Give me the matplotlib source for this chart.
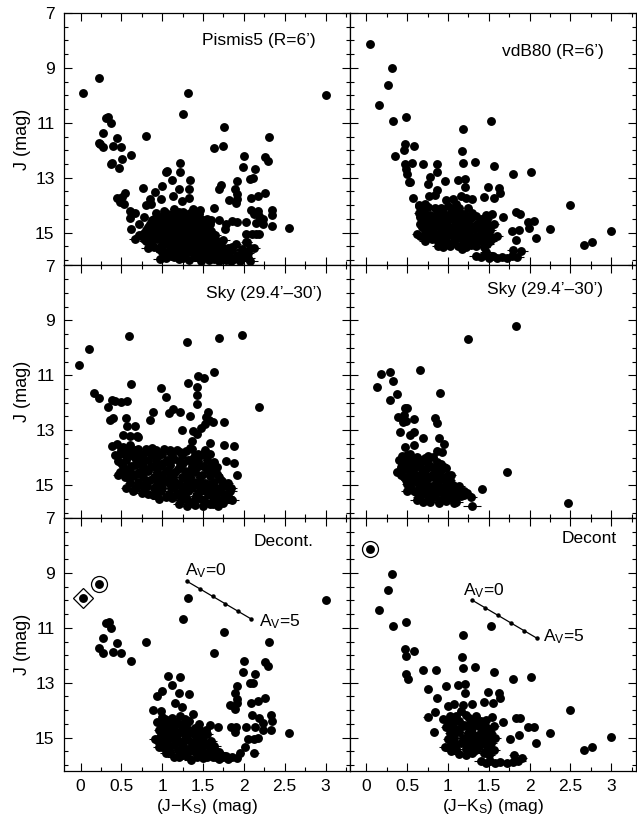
import numpy as np
import matplotlib.pyplot as plt
from matplotlib.ticker import FixedLocator, MultipleLocator, FuncFormatter

plt.rcParams['font.family'] = ['Liberation Sans', 'DejaVu Sans']
plt.rcParams['mathtext.fontset'] = 'custom'
plt.rcParams['mathtext.rm'] = 'Liberation Sans'
plt.rcParams['mathtext.it'] = 'Liberation Sans'

# (J-Ks, J, err(J-Ks))
pismis5_field = [
    (0.03, 9.93, 0.04), (0.23, 9.37, 0.01), (1.32, 9.90, 0.01), (1.25, 10.67, 0.01), (3.00, 10.00, 0.01),
    (0.31, 10.83, 0.01), (0.34, 10.78, 0.01), (0.37, 10.99, 0.01), (0.28, 11.37, 0.01), (0.22, 11.73, 0.01),
    (0.24, 11.76, 0.01), (0.27, 11.90, 0.01), (0.40, 11.85, 0.01), (0.44, 11.57, 0.01), (0.49, 11.90, 0.01),
    (0.51, 12.33, 0.01), (0.62, 12.18, 0.01), (0.38, 12.45, 0.01), (0.37, 12.50, 0.01), (0.47, 12.63, 0.01),
    (0.80, 11.49, 0.01), (1.76, 11.16, 0.01), (1.64, 11.93, 0.01), (1.75, 11.84, 0.01), (2.31, 11.51, 0.01),
    (2.00, 12.20, 0.01), (2.26, 12.23, 0.01), (2.29, 12.40, 0.01), (1.99, 12.60, 0.01), (2.14, 12.70, 0.01),
    (2.07, 13.05, 0.01), (2.11, 13.00, 0.01), (1.91, 13.13, 0.02), (1.22, 12.46, 0.01), (1.04, 12.81, 0.01),
    (1.06, 12.77, 0.01), (1.22, 12.81, 0.01), (1.12, 13.10, 0.01), (1.34, 13.07, 0.02), (0.77, 13.36, 0.02),
    (0.91, 13.52, 0.02), (1.00, 13.29, 0.02), (1.20, 13.40, 0.04), (1.33, 13.42, 0.04), (1.72, 13.25, 0.02),
    (1.70, 13.40, 0.02), (1.89, 13.40, 0.02), (1.91, 13.58, 0.02), (1.91, 13.78, 0.02), (1.90, 13.92, 0.02),
    (1.82, 13.82, 0.03), (2.09, 13.75, 0.02), (2.17, 13.65, 0.02), (2.26, 13.56, 0.02), (0.54, 13.56, 0.04),
    (0.51, 13.70, 0.04), (0.44, 13.73, 0.04), (0.48, 13.90, 0.04), (0.53, 13.95, 0.04), (0.61, 14.20, 0.04),
    (0.66, 14.27, 0.04), (0.60, 14.46, 0.05), (0.85, 13.79, 0.03), (0.80, 13.98, 0.03), (0.86, 13.97, 0.03),
    (0.98, 13.79, 0.03), (1.13, 13.67, 0.03), (1.24, 13.85, 0.03), (1.33, 13.74, 0.04), (1.38, 14.13, 0.03),
    (1.46, 14.19, 0.03), (1.64, 14.10, 0.03), (2.09, 14.16, 0.03), (2.12, 14.31, 0.03), (2.17, 14.21, 0.03),
    (2.19, 14.41, 0.03), (2.23, 14.50, 0.03), (2.34, 14.19, 0.03), (2.35, 14.37, 0.03), (1.60, 14.53, 0.04),
    (1.70, 14.53, 0.04), (1.86, 14.58, 0.04), (1.91, 14.62, 0.04), (2.03, 14.62, 0.04), (2.15, 14.65, 0.04),
    (2.23, 14.67, 0.04), (2.34, 14.76, 0.04), (1.78, 14.70, 0.04), (1.77, 14.86, 0.04), (2.02, 15.07, 0.04),
    (2.10, 15.05, 0.04), (2.15, 15.07, 0.04), (2.19, 15.07, 0.04), (2.55, 14.85, 0.05), (2.04, 15.35, 0.06),
    (2.07, 15.55, 0.07),
    (0.62, 14.87, 0.05), (0.66, 15.24, 0.07), (0.72, 14.68, 0.04), (0.76, 15.05, 0.06), (0.78, 14.45, 0.04),
    (0.80, 15.30, 0.08), (0.83, 14.80, 0.05), (0.85, 15.12, 0.06), (0.87, 14.55, 0.04), (0.88, 15.45, 0.08),
    (0.90, 14.95, 0.05), (0.92, 14.30, 0.04), (0.93, 15.25, 0.07), (0.95, 14.70, 0.05), (0.96, 15.60, 0.08),
    (0.98, 14.45, 0.04), (0.99, 15.05, 0.06), (1.00, 14.85, 0.05), (1.01, 15.40, 0.07), (1.02, 14.20, 0.04),
    (1.03, 15.70, 0.08), (1.05, 14.60, 0.05), (1.06, 15.15, 0.06), (1.07, 14.35, 0.04), (1.08, 14.95, 0.05),
    (1.09, 15.50, 0.07), (1.10, 14.75, 0.05), (1.11, 15.85, 0.08), (1.12, 14.50, 0.05), (1.13, 15.25, 0.06),
    (1.14, 14.15, 0.04), (1.15, 15.00, 0.06), (1.16, 15.65, 0.08), (1.17, 14.65, 0.05), (1.18, 15.40, 0.07),
    (1.19, 14.35, 0.04), (1.20, 14.90, 0.05), (1.21, 15.95, 0.09), (1.22, 15.15, 0.06), (1.23, 14.55, 0.05),
    (1.24, 15.55, 0.07), (1.25, 14.25, 0.04), (1.26, 14.80, 0.05), (1.27, 15.30, 0.07), (1.28, 15.80, 0.08),
    (1.29, 14.45, 0.04), (1.30, 15.05, 0.06), (1.31, 14.70, 0.05), (1.32, 15.45, 0.07), (1.33, 16.00, 0.09),
    (1.34, 14.30, 0.04), (1.35, 14.95, 0.06), (1.36, 15.65, 0.08), (1.37, 15.20, 0.06), (1.38, 14.60, 0.05),
    (1.39, 15.90, 0.09), (1.40, 14.85, 0.05), (1.41, 15.35, 0.07), (1.42, 14.45, 0.05), (1.43, 15.75, 0.08),
    (1.44, 15.10, 0.06), (1.45, 14.70, 0.05), (1.46, 15.55, 0.07), (1.47, 16.05, 0.09), (1.48, 14.95, 0.06),
    (1.49, 15.30, 0.07), (1.50, 14.55, 0.05), (1.51, 15.85, 0.08), (1.52, 15.15, 0.06), (1.53, 14.80, 0.05),
    (1.54, 15.60, 0.08), (1.55, 15.40, 0.07), (1.57, 16.00, 0.09), (1.58, 15.00, 0.06), (1.59, 15.75, 0.08),
    (1.60, 15.25, 0.07), (1.62, 15.50, 0.07), (1.63, 15.95, 0.09), (1.65, 15.35, 0.07), (1.67, 15.80, 0.08),
    (1.68, 15.60, 0.08), (1.70, 16.05, 0.09), (1.72, 15.45, 0.07), (1.74, 15.90, 0.09), (1.76, 15.70, 0.08),
    (1.78, 16.00, 0.09), (1.80, 15.55, 0.08), (1.82, 15.85, 0.09), (1.84, 16.05, 0.09), (1.86, 15.65, 0.08),
    (1.88, 15.95, 0.09), (1.90, 15.40, 0.07), (1.92, 15.80, 0.09), (1.95, 16.05, 0.09), (1.98, 15.60, 0.08),
    (2.00, 15.90, 0.09), (2.03, 15.35, 0.07), (2.05, 15.75, 0.08), (2.08, 16.05, 0.09), (2.12, 15.55, 0.08),
    (0.82, 15.55, 0.08), (0.78, 15.25, 0.08), (0.97, 15.95, 0.08),
    (1.05, 14.28, 0.04), (1.12, 14.32, 0.04), (1.20, 14.26, 0.04), (1.28, 14.34, 0.04), (1.36, 14.28, 0.04),
    (1.45, 14.33, 0.05), (0.90, 14.52, 0.05), (0.97, 14.48, 0.05), (1.04, 14.54, 0.05), (1.16, 14.50, 0.05),
    (1.26, 14.53, 0.05), (1.33, 14.47, 0.05), (1.46, 14.52, 0.05), (1.55, 14.49, 0.05), (0.85, 14.70, 0.05),
    (0.93, 14.74, 0.05), (1.01, 14.68, 0.05), (1.09, 14.72, 0.05), (1.22, 14.69, 0.05), (1.29, 14.74, 0.05),
    (1.38, 14.70, 0.05), (1.50, 14.73, 0.06), (1.58, 14.68, 0.06), (0.80, 14.92, 0.06), (0.88, 14.88, 0.06),
    (0.96, 14.93, 0.06), (1.04, 14.89, 0.06), (1.12, 14.91, 0.06), (1.18, 14.87, 0.06), (1.25, 14.93, 0.06),
    (1.31, 14.89, 0.06), (1.43, 14.92, 0.06), (1.52, 14.88, 0.06), (1.60, 14.93, 0.06), (0.72, 15.10, 0.07),
    (0.82, 15.13, 0.07), (0.90, 15.08, 0.07), (0.97, 15.12, 0.07), (1.03, 15.09, 0.07), (1.10, 15.11, 0.07),
    (1.17, 15.07, 0.07), (1.26, 15.12, 0.07), (1.34, 15.09, 0.07), (1.40, 15.13, 0.07), (1.48, 15.08, 0.07),
    (1.56, 15.11, 0.07), (1.65, 15.10, 0.07), (0.85, 15.31, 0.07), (0.98, 15.28, 0.07), (1.06, 15.32, 0.07),
    (1.15, 15.29, 0.07), (1.22, 15.33, 0.07), (1.30, 15.28, 0.07), (1.37, 15.31, 0.07), (1.45, 15.27, 0.07),
    (1.52, 15.32, 0.08), (1.58, 15.29, 0.08), (1.67, 15.31, 0.08), (1.75, 15.28, 0.08), (0.90, 15.52, 0.08),
    (1.00, 15.48, 0.08), (1.13, 15.52, 0.08), (1.20, 15.49, 0.08), (1.28, 15.51, 0.08), (1.35, 15.47, 0.08),
    (1.40, 15.52, 0.08), (1.50, 15.49, 0.08), (1.60, 15.51, 0.08), (1.70, 15.48, 0.08), (1.85, 15.52, 0.08),
    (1.00, 15.72, 0.08), (1.08, 15.68, 0.08), (1.22, 15.71, 0.08), (1.30, 15.67, 0.08), (1.38, 15.72, 0.08),
    (1.48, 15.69, 0.08), (1.56, 15.72, 0.08), (1.64, 15.68, 0.08), (1.72, 15.71, 0.08), (1.82, 15.69, 0.09),
    (1.98, 15.72, 0.09), (1.05, 15.91, 0.09), (1.15, 15.88, 0.09), (1.26, 15.92, 0.09), (1.45, 15.89, 0.09),
    (1.55, 15.92, 0.09), (1.68, 15.88, 0.09), (1.80, 15.91, 0.09), (1.93, 15.88, 0.09), (2.05, 15.92, 0.09),
]

vdb80_field = [
    (0.05, 8.13, 0.01), (0.31, 9.02, 0.01), (0.26, 9.63, 0.01), (0.15, 10.37, 0.01), (0.33, 10.93, 0.01),
    (0.49, 10.78, 0.01), (1.53, 10.95, 0.01), (1.18, 11.23, 0.01), (0.47, 11.77, 0.01), (0.46, 12.00, 0.01),
    (0.58, 11.83, 0.01), (0.35, 12.21, 0.01), (1.17, 12.04, 0.01), (0.47, 12.50, 0.01), (0.49, 12.67, 0.01),
    (0.50, 12.85, 0.01), (0.56, 12.46, 0.01), (0.70, 12.52, 0.01), (0.86, 12.49, 0.04), (0.86, 12.80, 0.01),
    (1.19, 12.46, 0.01), (1.33, 12.43, 0.01), (1.57, 12.58, 0.01), (1.80, 12.85, 0.01), (2.02, 12.79, 0.01),
    (0.78, 12.97, 0.01), (0.52, 13.16, 0.01), (0.54, 13.14, 0.01), (0.75, 13.22, 0.01), (0.96, 13.13, 0.04),
    (1.12, 13.10, 0.01), (1.21, 13.06, 0.01), (1.21, 13.34, 0.01), (1.49, 13.34, 0.01), (1.63, 13.37, 0.01),
    (1.64, 13.55, 0.01), (0.86, 13.46, 0.03), (0.84, 13.62, 0.01), (0.77, 13.65, 0.01), (0.57, 13.74, 0.01),
    (0.98, 13.82, 0.02), (1.06, 13.76, 0.02), (1.16, 13.65, 0.02), (1.22, 13.75, 0.02), (1.29, 13.78, 0.02),
    (1.44, 13.70, 0.02), (1.56, 13.73, 0.03), (0.64, 13.98, 0.03), (0.72, 13.97, 0.03), (2.50, 14.00, 0.01),
    (1.83, 14.26, 0.03), (1.88, 14.31, 0.03), (1.68, 14.43, 0.02), (1.46, 14.37, 0.04), (1.54, 14.31, 0.03),
    (1.98, 14.62, 0.03), (2.05, 14.58, 0.03), (1.99, 14.82, 0.03), (1.87, 14.90, 0.03), (1.78, 14.95, 0.03),
    (2.25, 14.86, 0.05), (3.00, 14.96, 0.05), (1.83, 15.28, 0.03), (2.08, 15.20, 0.05), (2.67, 15.47, 0.03),
    (2.76, 15.35, 0.03), (0.94, 15.53, 0.06), (1.17, 15.60, 0.06),
    (0.62, 15.04, 0.06), (0.64, 14.05, 0.04), (0.66, 14.45, 0.05), (0.68, 14.80, 0.05), (0.70, 14.20, 0.04),
    (0.72, 15.10, 0.06), (0.74, 14.60, 0.05), (0.76, 14.95, 0.06), (0.78, 14.35, 0.04), (0.80, 15.25, 0.07),
    (0.82, 14.70, 0.05), (0.84, 14.10, 0.04), (0.86, 15.05, 0.06), (0.88, 14.50, 0.05), (0.90, 15.35, 0.07),
    (0.92, 14.85, 0.06), (0.94, 14.25, 0.04), (0.96, 14.65, 0.05), (0.98, 15.15, 0.06), (1.00, 14.40, 0.05),
    (1.02, 14.95, 0.06), (1.04, 15.40, 0.07), (1.05, 14.15, 0.04), (1.07, 14.75, 0.05), (1.09, 15.20, 0.07),
    (1.10, 14.55, 0.05), (1.12, 15.50, 0.08), (1.14, 14.90, 0.06), (1.15, 14.30, 0.05), (1.18, 15.05, 0.06),
    (1.20, 14.65, 0.05), (1.22, 15.30, 0.07), (1.24, 14.45, 0.05), (1.26, 14.95, 0.06), (1.28, 15.45, 0.07),
    (1.30, 14.75, 0.06), (1.32, 15.15, 0.07), (1.34, 14.40, 0.05), (1.36, 15.35, 0.07), (1.38, 14.85, 0.06),
    (1.40, 15.05, 0.07), (1.42, 14.60, 0.06), (1.44, 15.25, 0.07), (1.46, 14.90, 0.06), (1.48, 15.40, 0.08),
    (1.50, 15.10, 0.07), (1.52, 14.75, 0.06), (1.55, 15.20, 0.07), (1.00, 14.03, 0.04), (1.10, 13.95, 0.04),
    (1.34, 15.85, 0.08), (1.40, 15.90, 0.08), (1.45, 15.80, 0.08), (1.50, 15.92, 0.09), (1.55, 15.85, 0.08),
    (1.60, 15.92, 0.09), (1.66, 15.88, 0.08), (1.72, 15.92, 0.09), (1.78, 15.85, 0.08), (1.84, 15.90, 0.09),
    (1.80, 15.62, 0.08), (1.90, 15.67, 0.08), (1.47, 15.72, 0.08),
    (0.68, 14.12, 0.04), (0.76, 14.08, 0.04), (0.92, 14.11, 0.04), (1.14, 14.09, 0.04), (1.25, 14.12, 0.04),
    (0.64, 14.30, 0.05), (0.72, 14.33, 0.05), (0.86, 14.29, 0.05), (1.02, 14.32, 0.05), (1.10, 14.28, 0.05),
    (1.20, 14.31, 0.05), (1.30, 14.29, 0.05), (0.70, 14.52, 0.05), (0.80, 14.48, 0.05), (0.94, 14.51, 0.05),
    (1.05, 14.49, 0.05), (1.16, 14.52, 0.05), (1.28, 14.48, 0.05), (1.40, 14.51, 0.05), (1.48, 14.49, 0.06),
    (0.66, 14.70, 0.05), (0.78, 14.72, 0.05), (0.88, 14.69, 0.05), (0.99, 14.71, 0.06), (1.12, 14.68, 0.06),
    (1.25, 14.72, 0.06), (1.35, 14.69, 0.06), (1.47, 14.71, 0.06), (1.56, 14.68, 0.06), (0.72, 14.91, 0.06),
    (0.82, 14.88, 0.06), (0.96, 14.92, 0.06), (1.08, 14.89, 0.06), (1.20, 14.91, 0.06), (1.32, 14.88, 0.06),
    (1.43, 14.92, 0.06), (1.52, 14.89, 0.07), (0.66, 15.12, 0.07), (0.78, 15.09, 0.07), (0.90, 15.11, 0.07),
    (1.04, 15.08, 0.07), (1.14, 15.12, 0.07), (1.26, 15.09, 0.07), (1.36, 15.11, 0.07), (1.46, 15.08, 0.07),
    (1.60, 15.12, 0.07), (0.72, 15.31, 0.07), (0.86, 15.28, 0.07), (0.98, 15.32, 0.07), (1.08, 15.29, 0.07),
    (1.18, 15.31, 0.07), (1.30, 15.28, 0.08), (1.42, 15.32, 0.08), (1.52, 15.29, 0.08), (0.88, 15.50, 0.08),
    (1.02, 15.48, 0.08), (1.22, 15.51, 0.08), (1.34, 15.49, 0.08), (1.44, 15.52, 0.08),
]

pismis5_sky = [
    (-0.02, 10.64, 0.01), (0.10, 10.03, 0.01), (0.59, 9.57, 0.01), (1.30, 9.80, 0.01), (1.70, 9.65, 0.01),
    (1.98, 9.52, 0.01), (0.16, 11.64, 0.01), (0.23, 11.83, 0.01), (0.34, 12.17, 0.01), (0.36, 12.63, 0.01),
    (0.40, 12.57, 0.01), (0.38, 11.90, 0.01), (0.42, 11.95, 0.01), (0.50, 11.99, 0.01), (0.57, 11.94, 0.01),
    (0.62, 11.33, 0.01), (0.56, 12.56, 0.01), (0.57, 12.86, 0.01), (0.67, 12.84, 0.01), (0.52, 13.18, 0.01),
    (0.69, 13.20, 0.02), (0.70, 13.25, 0.02), (0.85, 12.62, 0.01), (0.89, 12.32, 0.01), (0.98, 11.48, 0.01),
    (1.05, 11.80, 0.01), (1.08, 12.39, 0.01), (1.13, 12.23, 0.01), (1.22, 12.32, 0.01), (1.31, 11.27, 0.01),
    (1.34, 12.47, 0.01), (1.24, 12.98, 0.01), (1.36, 13.39, 0.01), (1.38, 13.02, 0.01), (1.42, 13.14, 0.01),
    (1.44, 11.01, 0.01), (1.51, 11.10, 0.01), (1.63, 10.89, 0.01), (1.42, 11.43, 0.01), (1.42, 11.71, 0.01),
    (1.43, 12.05, 0.01), (1.47, 12.91, 0.01), (1.52, 12.78, 0.01), (1.54, 12.51, 0.01), (1.56, 12.32, 0.01),
    (1.57, 12.62, 0.01), (1.62, 12.69, 0.01), (1.59, 13.47, 0.01), (1.76, 12.69, 0.01), (1.76, 13.53, 0.01),
    (1.88, 13.58, 0.01), (1.78, 14.14, 0.01), (1.88, 14.20, 0.01), (1.91, 14.63, 0.01), (2.19, 12.15, 0.01),
    (1.67, 14.35, 0.02), (1.54, 13.88, 0.02), (1.44, 13.85, 0.02), (1.34, 13.65, 0.02), (1.22, 13.78, 0.02),
    (1.09, 13.72, 0.02), (0.46, 14.62, 0.06), (0.56, 15.11, 0.07),
    (0.38, 13.57, 0.03), (0.44, 13.51, 0.03), (0.48, 13.85, 0.04), (0.50, 14.20, 0.05), (0.52, 13.60, 0.04),
    (0.54, 14.45, 0.05), (0.57, 13.95, 0.04), (0.59, 14.75, 0.06), (0.61, 13.55, 0.04), (0.62, 14.30, 0.05),
    (0.64, 15.20, 0.07), (0.66, 14.00, 0.05), (0.68, 14.60, 0.06), (0.70, 13.70, 0.04), (0.71, 14.95, 0.06),
    (0.73, 14.25, 0.05), (0.75, 15.30, 0.07), (0.77, 13.85, 0.04), (0.79, 14.50, 0.05), (0.81, 15.05, 0.06),
    (0.83, 14.10, 0.05), (0.85, 14.80, 0.06), (0.87, 13.65, 0.04), (0.89, 15.35, 0.07), (0.91, 14.35, 0.05),
    (0.93, 14.95, 0.06), (0.95, 13.95, 0.05), (0.97, 14.65, 0.06), (0.99, 15.20, 0.07), (1.01, 14.20, 0.05),
    (1.03, 14.85, 0.06), (1.05, 15.45, 0.07), (1.07, 14.45, 0.05), (1.09, 13.80, 0.04), (1.11, 15.10, 0.06),
    (1.13, 14.70, 0.06), (1.15, 14.05, 0.05), (1.17, 15.35, 0.07), (1.19, 14.40, 0.05), (1.21, 14.95, 0.06),
    (1.23, 15.55, 0.08), (1.25, 14.20, 0.05), (1.27, 14.75, 0.06), (1.29, 13.75, 0.04), (1.31, 15.20, 0.07),
    (1.33, 14.50, 0.05), (1.35, 15.65, 0.08), (1.37, 14.05, 0.05), (1.39, 14.90, 0.06), (1.41, 15.40, 0.07),
    (1.43, 14.35, 0.05), (1.45, 15.05, 0.06), (1.47, 13.90, 0.05), (1.49, 14.65, 0.06), (1.51, 15.55, 0.08),
    (1.53, 15.20, 0.07), (1.55, 14.45, 0.06), (1.57, 14.95, 0.06), (1.59, 15.70, 0.08), (1.61, 15.35, 0.07),
    (1.63, 14.15, 0.05), (1.65, 15.10, 0.07), (1.67, 14.60, 0.06), (1.69, 15.55, 0.08), (1.71, 15.25, 0.07),
    (1.73, 14.85, 0.06), (1.75, 15.65, 0.08), (1.78, 15.05, 0.07), (1.80, 15.40, 0.08), (1.83, 15.20, 0.08),
    (1.86, 15.55, 0.08), (1.21, 15.70, 0.08), (1.30, 15.75, 0.08), (1.40, 15.72, 0.08), (1.50, 15.78, 0.08),
    (1.62, 15.68, 0.08), (1.68, 15.76, 0.09), (0.60, 13.20, 0.03), (0.84, 13.78, 0.04), (0.72, 15.00, 0.06),
    (0.66, 15.10, 0.07),
    (0.50, 13.72, 0.04), (0.58, 13.68, 0.04), (0.66, 13.73, 0.04), (0.80, 13.69, 0.04), (0.92, 13.72, 0.04),
    (1.02, 13.68, 0.04), (1.18, 13.71, 0.04), (1.36, 13.69, 0.04), (1.52, 13.72, 0.04), (0.42, 13.91, 0.04),
    (0.54, 13.88, 0.04), (0.62, 13.92, 0.04), (0.72, 13.89, 0.04), (0.88, 13.91, 0.04), (1.00, 13.88, 0.04),
    (1.12, 13.92, 0.04), (1.24, 13.89, 0.04), (1.40, 13.91, 0.05), (1.58, 13.88, 0.05), (0.46, 14.12, 0.05),
    (0.56, 14.08, 0.05), (0.70, 14.11, 0.05), (0.78, 14.09, 0.05), (0.92, 14.12, 0.05), (1.06, 14.08, 0.05),
    (1.20, 14.11, 0.05), (1.32, 14.09, 0.05), (1.44, 14.12, 0.05), (1.55, 14.08, 0.05), (0.52, 14.31, 0.05),
    (0.66, 14.28, 0.05), (0.76, 14.32, 0.05), (0.86, 14.29, 0.05), (0.98, 14.31, 0.05), (1.10, 14.28, 0.05),
    (1.22, 14.32, 0.05), (1.36, 14.29, 0.05), (1.50, 14.31, 0.06), (1.60, 14.28, 0.06), (0.48, 14.52, 0.05),
    (0.60, 14.48, 0.05), (0.72, 14.51, 0.05), (0.82, 14.49, 0.05), (0.94, 14.52, 0.06), (1.04, 14.48, 0.06),
    (1.16, 14.51, 0.06), (1.28, 14.49, 0.06), (1.40, 14.52, 0.06), (1.62, 14.48, 0.06), (0.54, 14.71, 0.06),
    (0.64, 14.68, 0.06), (0.76, 14.72, 0.06), (0.90, 14.69, 0.06), (1.00, 14.71, 0.06), (1.10, 14.68, 0.06),
    (1.24, 14.72, 0.06), (1.34, 14.69, 0.06), (1.46, 14.71, 0.06), (1.58, 14.68, 0.06), (1.70, 14.72, 0.06),
    (0.60, 14.92, 0.06), (0.70, 14.88, 0.06), (0.80, 14.91, 0.06), (0.96, 14.89, 0.06), (1.08, 14.92, 0.06),
    (1.16, 14.88, 0.06), (1.30, 14.91, 0.06), (1.44, 14.89, 0.07), (1.52, 14.92, 0.07), (1.64, 14.88, 0.07),
    (1.80, 14.91, 0.07), (0.68, 15.11, 0.07), (0.78, 15.08, 0.07), (0.90, 15.12, 0.07), (1.00, 15.09, 0.07),
    (1.14, 15.11, 0.07), (1.24, 15.08, 0.07), (1.36, 15.12, 0.07), (1.48, 15.09, 0.07), (1.58, 15.11, 0.07),
    (1.72, 15.08, 0.07), (1.84, 15.12, 0.08), (0.82, 15.31, 0.07), (0.94, 15.28, 0.07), (1.08, 15.32, 0.07),
    (1.20, 15.29, 0.07), (1.28, 15.31, 0.07), (1.44, 15.28, 0.08), (1.56, 15.32, 0.08), (1.66, 15.29, 0.08),
    (1.76, 15.31, 0.08), (0.96, 15.52, 0.08), (1.12, 15.48, 0.08), (1.30, 15.51, 0.08), (1.40, 15.49, 0.08),
    (1.48, 15.52, 0.08), (1.62, 15.48, 0.08), (1.78, 15.51, 0.08),
]

vdb80_sky = [
    (1.83, 9.19, 0.01), (1.25, 9.68, 0.04), (0.13, 11.42, 0.01), (0.18, 10.94, 0.01), (0.29, 10.89, 0.01),
    (0.33, 11.21, 0.01), (0.66, 10.81, 0.01), (0.38, 11.70, 0.01), (0.29, 11.89, 0.01), (0.90, 11.63, 0.01),
    (0.47, 12.19, 0.01), (0.50, 12.18, 0.01), (0.39, 12.51, 0.01), (0.46, 12.43, 0.01), (0.45, 12.72, 0.01),
    (0.48, 12.66, 0.01), (0.59, 12.60, 0.01), (0.84, 12.55, 0.01), (0.86, 12.75, 0.01), (0.41, 13.07, 0.01),
    (0.54, 13.18, 0.01), (0.59, 13.08, 0.01), (0.70, 13.29, 0.01), (0.89, 13.29, 0.01), (0.95, 13.52, 0.01),
    (0.93, 13.81, 0.01), (0.87, 13.75, 0.01), (0.47, 13.63, 0.01), (0.59, 13.55, 0.01), (0.50, 13.91, 0.01),
    (0.38, 14.54, 0.05), (1.72, 14.52, 0.05), (1.42, 15.15, 0.05), (1.23, 15.30, 0.06), (1.29, 15.76, 0.11),
    (1.08, 15.66, 0.05), (2.47, 15.65, 0.05), (0.89, 15.66, 0.05), (0.95, 14.34, 0.03),
    (0.40, 14.10, 0.04), (0.42, 14.35, 0.05), (0.44, 13.95, 0.04), (0.46, 14.70, 0.05), (0.48, 14.20, 0.05),
    (0.50, 14.95, 0.06), (0.52, 14.45, 0.05), (0.53, 13.85, 0.04), (0.55, 15.10, 0.06), (0.56, 14.60, 0.05),
    (0.58, 14.05, 0.05), (0.60, 14.85, 0.06), (0.61, 15.25, 0.07), (0.63, 14.30, 0.05), (0.65, 14.70, 0.06),
    (0.66, 15.40, 0.07), (0.68, 14.10, 0.05), (0.70, 14.95, 0.06), (0.71, 14.50, 0.05), (0.73, 15.20, 0.07),
    (0.75, 13.95, 0.05), (0.76, 14.75, 0.06), (0.78, 15.50, 0.07), (0.80, 14.35, 0.05), (0.81, 15.05, 0.06),
    (0.83, 14.60, 0.06), (0.85, 15.30, 0.07), (0.87, 14.15, 0.05), (0.88, 14.90, 0.06), (0.90, 15.55, 0.08),
    (0.92, 14.45, 0.06), (0.94, 15.15, 0.07), (0.96, 14.75, 0.06), (0.98, 15.40, 0.07), (1.00, 14.95, 0.07),
    (1.02, 15.25, 0.07), (1.04, 14.65, 0.06), (1.06, 15.45, 0.08), (1.08, 15.10, 0.07), (1.12, 15.35, 0.08),
    (1.16, 15.40, 0.08), (0.62, 15.55, 0.08), (0.70, 15.60, 0.08), (0.50, 15.20, 0.07),
    (0.50, 14.02, 0.04), (0.62, 13.98, 0.04), (0.72, 14.02, 0.04), (0.82, 13.98, 0.04), (0.44, 14.22, 0.05),
    (0.55, 14.18, 0.05), (0.66, 14.22, 0.05), (0.76, 14.18, 0.05), (0.92, 14.22, 0.05), (0.47, 14.42, 0.05),
    (0.58, 14.38, 0.05), (0.68, 14.42, 0.05), (0.74, 14.38, 0.05), (0.86, 14.42, 0.05), (0.98, 14.38, 0.05),
    (0.42, 14.62, 0.05), (0.53, 14.58, 0.05), (0.62, 14.62, 0.05), (0.72, 14.58, 0.05), (0.80, 14.62, 0.05),
    (0.90, 14.58, 0.06), (1.00, 14.62, 0.06), (0.48, 14.82, 0.06), (0.57, 14.78, 0.06), (0.66, 14.82, 0.06),
    (0.74, 14.78, 0.06), (0.85, 14.82, 0.06), (0.94, 14.78, 0.06), (1.03, 14.82, 0.06), (0.54, 15.02, 0.06),
    (0.64, 14.98, 0.06), (0.76, 15.02, 0.06), (0.86, 14.98, 0.06), (0.96, 15.02, 0.07), (1.06, 14.98, 0.07),
    (1.14, 15.02, 0.07), (0.58, 15.22, 0.07), (0.68, 15.18, 0.07), (0.80, 15.22, 0.07), (0.90, 15.18, 0.07),
    (1.00, 15.22, 0.07), (1.10, 15.18, 0.07), (1.20, 15.22, 0.07), (0.64, 15.42, 0.07), (0.74, 15.38, 0.07),
    (0.84, 15.42, 0.08), (0.95, 15.38, 0.08), (1.04, 15.42, 0.08), (1.20, 15.38, 0.08), (1.28, 15.42, 0.08),
    (0.78, 15.62, 0.08), (0.98, 15.58, 0.08), (1.10, 15.62, 0.08),
]

pismis5_decont = [
    (1.32, 9.91, 0.01), (1.25, 10.67, 0.01), (3.00, 10.00, 0.01), (0.31, 10.83, 0.01), (0.35, 10.80, 0.01),
    (0.37, 11.01, 0.01), (0.28, 11.36, 0.01), (0.22, 11.74, 0.01), (0.27, 11.93, 0.01), (0.40, 11.87, 0.01),
    (0.44, 11.56, 0.01), (0.49, 11.93, 0.01), (0.62, 12.20, 0.01), (0.80, 11.50, 0.01), (1.76, 11.16, 0.01),
    (1.64, 11.93, 0.01), (2.31, 11.53, 0.01), (2.00, 12.20, 0.01), (2.26, 12.23, 0.01), (2.29, 12.39, 0.01),
    (1.99, 12.62, 0.01), (2.14, 12.69, 0.01), (2.07, 13.03, 0.01), (2.11, 13.00, 0.01), (1.91, 13.12, 0.01),
    (1.07, 12.74, 0.01), (1.22, 12.80, 0.01), (1.12, 13.08, 0.01), (1.00, 13.30, 0.01), (0.94, 13.47, 0.01),
    (1.20, 13.39, 0.01), (1.33, 13.43, 0.04), (1.89, 13.39, 0.01), (1.92, 13.58, 0.01), (1.91, 13.73, 0.01),
    (1.83, 13.82, 0.01), (1.89, 13.96, 0.01), (2.09, 13.75, 0.01), (2.17, 13.66, 0.01), (2.26, 13.55, 0.01),
    (1.16, 13.73, 0.01), (1.24, 13.90, 0.01), (0.89, 14.00, 0.04), (0.98, 14.02, 0.02), (1.38, 14.14, 0.01),
    (2.10, 14.18, 0.01), (2.19, 14.30, 0.01), (2.33, 14.18, 0.01), (2.35, 14.39, 0.01), (2.23, 14.48, 0.01),
    (1.59, 14.56, 0.03), (1.68, 14.62, 0.03), (1.84, 14.60, 0.03), (1.90, 14.62, 0.03), (2.02, 14.60, 0.03),
    (2.14, 14.62, 0.03), (2.23, 14.71, 0.03), (2.33, 14.71, 0.03), (1.89, 14.79, 0.03), (2.05, 15.05, 0.04),
    (2.13, 15.05, 0.04), (2.17, 15.03, 0.04), (2.55, 14.85, 0.04), (2.01, 15.33, 0.05), (2.13, 15.55, 0.05),
    (1.95, 15.55, 0.05), (1.91, 15.76, 0.06),
    (0.91, 15.05, 0.07), (0.94, 14.45, 0.05), (0.96, 15.35, 0.07), (0.98, 14.75, 0.06), (1.00, 14.25, 0.05),
    (1.02, 15.10, 0.07), (1.04, 14.55, 0.05), (1.05, 15.55, 0.08), (1.07, 14.90, 0.06), (1.09, 14.35, 0.05),
    (1.10, 15.30, 0.07), (1.12, 14.65, 0.06), (1.14, 15.70, 0.08), (1.15, 15.05, 0.06), (1.17, 14.45, 0.05),
    (1.19, 15.45, 0.07), (1.20, 14.80, 0.06), (1.22, 14.20, 0.05), (1.24, 15.20, 0.07), (1.26, 15.65, 0.08),
    (1.27, 14.60, 0.06), (1.29, 15.00, 0.06), (1.31, 15.40, 0.07), (1.33, 14.40, 0.05), (1.35, 15.80, 0.08),
    (1.36, 14.85, 0.06), (1.38, 15.25, 0.07), (1.40, 14.65, 0.06), (1.42, 15.60, 0.08), (1.44, 15.05, 0.07),
    (1.46, 15.40, 0.07), (1.48, 14.90, 0.06), (1.50, 15.75, 0.08), (1.52, 15.20, 0.07), (1.55, 15.55, 0.08),
    (1.58, 15.35, 0.07), (1.62, 15.70, 0.08), (1.66, 15.50, 0.08), (1.70, 15.78, 0.08), (1.75, 15.70, 0.08),
    (1.80, 15.78, 0.08), (1.86, 15.72, 0.08), (1.00, 15.35, 0.08),
    (1.03, 14.32, 0.05), (1.12, 14.28, 0.05), (1.28, 14.31, 0.05), (0.98, 14.52, 0.05), (1.08, 14.48, 0.05),
    (1.20, 14.52, 0.05), (1.30, 14.48, 0.05), (1.45, 14.51, 0.05), (0.96, 14.71, 0.06), (1.05, 14.68, 0.06),
    (1.15, 14.72, 0.06), (1.25, 14.69, 0.06), (1.33, 14.71, 0.06), (1.45, 14.68, 0.06), (1.53, 14.72, 0.06),
    (0.98, 14.91, 0.06), (1.10, 14.88, 0.06), (1.18, 14.92, 0.06), (1.28, 14.89, 0.06), (1.40, 14.91, 0.06),
    (1.55, 14.88, 0.07), (0.95, 15.12, 0.07), (1.06, 15.08, 0.07), (1.20, 15.11, 0.07), (1.32, 15.09, 0.07),
    (1.40, 15.12, 0.07), (1.50, 15.08, 0.07), (1.60, 15.11, 0.07), (1.04, 15.31, 0.07), (1.15, 15.28, 0.07),
    (1.26, 15.32, 0.07), (1.36, 15.29, 0.07), (1.45, 15.31, 0.07), (1.52, 15.28, 0.08), (1.64, 15.32, 0.08),
    (1.10, 15.52, 0.08), (1.22, 15.48, 0.08), (1.30, 15.51, 0.08), (1.38, 15.49, 0.08), (1.48, 15.52, 0.08),
    (1.60, 15.48, 0.08), (1.70, 15.51, 0.08), (1.20, 15.72, 0.08), (1.30, 15.68, 0.08), (1.42, 15.71, 0.08),
    (1.55, 15.69, 0.08), (1.66, 15.72, 0.08), (1.78, 15.68, 0.08),
]

vdb80_decont = [
    (0.31, 9.03, 0.01), (0.26, 9.63, 0.01), (0.15, 10.37, 0.01), (0.33, 10.95, 0.01), (0.49, 10.80, 0.01),
    (1.53, 10.95, 0.01), (1.18, 11.25, 0.01), (0.47, 11.77, 0.01), (0.49, 12.01, 0.01), (0.58, 11.83, 0.01),
    (1.17, 12.05, 0.01), (1.19, 12.46, 0.01), (1.33, 12.44, 0.01), (0.70, 12.52, 0.01), (0.85, 12.55, 0.04),
    (1.57, 12.61, 0.01), (0.49, 12.69, 0.01), (0.51, 12.88, 0.01), (1.80, 12.88, 0.01), (2.02, 12.80, 0.01),
    (0.75, 13.23, 0.01), (0.97, 13.12, 0.04), (1.12, 13.08, 0.01), (1.21, 13.05, 0.01), (1.21, 13.39, 0.01),
    (1.49, 13.34, 0.01), (1.63, 13.36, 0.01), (1.64, 13.55, 0.01), (1.55, 13.73, 0.01), (1.44, 13.72, 0.01),
    (0.86, 13.56, 0.04), (2.50, 14.00, 0.01), (0.75, 14.24, 0.05), (0.84, 14.08, 0.05), (0.94, 14.32, 0.02),
    (1.00, 13.85, 0.02), (1.08, 13.78, 0.02), (1.18, 13.80, 0.02), (1.29, 13.76, 0.02), (1.68, 14.43, 0.02),
    (1.83, 14.27, 0.03), (1.88, 14.30, 0.03), (1.46, 14.35, 0.03), (1.54, 14.26, 0.03), (0.83, 14.79, 0.05),
    (1.98, 14.60, 0.03), (2.05, 14.60, 0.03), (2.25, 14.85, 0.05), (1.87, 14.91, 0.03), (1.76, 15.07, 0.03),
    (2.08, 15.21, 0.03), (3.00, 14.97, 0.05), (2.67, 15.47, 0.03), (2.76, 15.36, 0.03), (0.96, 15.36, 0.07),
    (1.81, 15.65, 0.06), (1.91, 15.76, 0.06),
    (0.98, 14.60, 0.06), (1.00, 15.05, 0.06), (1.02, 14.20, 0.05), (1.04, 15.50, 0.08), (1.06, 14.85, 0.06),
    (1.08, 14.40, 0.05), (1.10, 15.25, 0.07), (1.12, 14.70, 0.06), (1.14, 15.60, 0.08), (1.16, 14.05, 0.05),
    (1.18, 15.00, 0.06), (1.20, 14.55, 0.06), (1.22, 15.40, 0.07), (1.24, 14.85, 0.06), (1.26, 14.30, 0.05),
    (1.28, 15.15, 0.07), (1.30, 14.65, 0.06), (1.32, 15.50, 0.08), (1.34, 14.95, 0.06), (1.36, 14.45, 0.06),
    (1.38, 15.30, 0.07), (1.40, 14.80, 0.06), (1.42, 15.10, 0.07), (1.44, 15.55, 0.08), (1.46, 14.95, 0.07),
    (1.48, 15.35, 0.07), (1.50, 14.70, 0.06), (1.53, 15.20, 0.07), (1.56, 15.45, 0.08),
    (1.40, 15.85, 0.08), (1.46, 15.92, 0.08), (1.52, 15.85, 0.08), (1.58, 15.93, 0.09), (1.64, 15.88, 0.08),
    (1.72, 15.93, 0.09), (1.80, 15.90, 0.09), (1.86, 15.85, 0.09),
    (1.10, 14.22, 0.05), (1.22, 14.18, 0.05), (1.34, 14.22, 0.05), (1.00, 14.42, 0.05), (1.14, 14.38, 0.05),
    (1.28, 14.42, 0.05), (1.40, 14.38, 0.05), (1.06, 14.62, 0.06), (1.18, 14.58, 0.06), (1.26, 14.62, 0.06),
    (1.38, 14.58, 0.06), (1.46, 14.62, 0.06), (1.56, 14.58, 0.06), (1.02, 14.82, 0.06), (1.14, 14.78, 0.06),
    (1.30, 14.82, 0.06), (1.46, 14.78, 0.06), (1.53, 14.82, 0.06), (1.08, 15.02, 0.07), (1.26, 14.98, 0.07),
    (1.40, 15.02, 0.07), (1.50, 14.98, 0.07), (1.58, 15.02, 0.07), (1.04, 15.22, 0.07), (1.16, 15.18, 0.07),
    (1.22, 15.22, 0.07), (1.34, 15.18, 0.07), (1.46, 15.22, 0.07), (1.10, 15.42, 0.08), (1.28, 15.38, 0.08),
    (1.36, 15.42, 0.08), (1.52, 15.38, 0.08), (1.22, 15.62, 0.08), (1.30, 15.58, 0.08), (1.50, 15.62, 0.08),
]

# highlighted stars in the decontaminated panels
pismis5_circled = (0.23, 9.40)
pismis5_diamond = (0.03, 9.93)
vdb80_circled = (0.04, 8.14)

# reddening vectors A_V = 0..5
av_steps = [0, 1, 2, 3, 4, 5]
ejk_per_av = 0.158
aj_per_av = 0.276
pismis5_vec_start = (1.30, 9.30)
vdb80_vec_start = (1.30, 10.00)

panel_labels = ["Pismis5 (R=6\u2019)", "vdB80 (R=6\u2019)",
                "Sky (29.4\u2019\u201330\u2019)", "Sky (29.4\u2019\u201330\u2019)",
                "Decont.", "Decont"]
label_pos = [(0.878, 0.893), (0.888, 0.846), (0.901, 0.888),
             (0.884, 0.904), (0.871, 0.906), (0.935, 0.92)]

fig = plt.figure(figsize=(6.37, 8.22), dpi=100)

ax_left, ax_w = 64.3 / 637, 285.7 / 637
ax_right = 350 / 637
ax_h = 252.5 / 822
bottoms = [1 - 265.5 / 822, 1 - 518 / 822, 1 - 770.5 / 822]

datasets = [pismis5_field, vdb80_field, pismis5_sky, vdb80_sky, pismis5_decont, vdb80_decont]

axes = []
for row in range(3):
    for col in range(2):
        left = ax_left if col == 0 else ax_right
        ax = fig.add_axes([left, bottoms[row], ax_w, ax_h])
        axes.append(ax)

MS = 6.4

for i, ax in enumerate(axes):
    row, col = divmod(i, 2)
    d = np.array(datasets[i])
    ax.errorbar(d[:, 0], d[:, 1], xerr=d[:, 2], fmt='o', ms=MS, mew=0, color='black',
                ecolor='black', elinewidth=0.8, capsize=1.8, capthick=0.8)
    ax.set_xlim(-0.2, 3.3)
    ax.set_ylim(16.2, 7)
    ax.yaxis.set_major_locator(FixedLocator([7, 9, 11, 13, 15]))
    ax.yaxis.set_minor_locator(MultipleLocator(0.5))
    ax.xaxis.set_major_locator(MultipleLocator(0.5))
    ax.xaxis.set_minor_locator(MultipleLocator(0.25))
    ax.xaxis.set_major_formatter(FuncFormatter(lambda v, p: '%g' % v))
    ax.tick_params(which='both', direction='in', top=True, right=True, labelsize=12.5, width=0.8)
    ax.tick_params(which='major', length=5.5)
    ax.tick_params(which='minor', length=2.8)
    ax.tick_params(axis='y', pad=7)
    ax.tick_params(axis='x', pad=6)
    for s in ax.spines.values():
        s.set_linewidth(0.9)
    if col == 1:
        ax.tick_params(labelleft=False)
    else:
        ax.set_ylabel('J (mag)', fontsize=13, labelpad=3)
    if row < 2:
        ax.tick_params(labelbottom=False)
    else:
        ax.set_xlabel('(J\u2212K$_{\\rm S}$) (mag)', fontsize=12.5, labelpad=2)
    lx, ly = label_pos[i]
    ax.text(lx, ly, panel_labels[i], transform=ax.transAxes, ha='right', va='center', fontsize=12.5)

# decontaminated panels: reddening vectors and marked stars
for ax, start, t0, t5 in [(axes[4], pismis5_vec_start, (1.28, 9.07), (2.18, 10.95)),
                          (axes[5], vdb80_vec_start, (1.19, 9.80), (2.17, 11.50))]:
    vx = [start[0] + ejk_per_av * a for a in av_steps]
    vy = [start[1] + aj_per_av * a for a in av_steps]
    ax.plot(vx, vy, '-', color='black', lw=0.9, marker='o', ms=2.2)
    ax.text(t0[0], t0[1], 'A$_{\\rm V}$=0', fontsize=12.5, ha='left', va='baseline')
    ax.text(t5[0], t5[1], 'A$_{\\rm V}$=5', fontsize=12.5, ha='left', va='baseline')

axes[4].plot(*pismis5_circled, 'o', ms=MS, mew=0, color='black')
axes[4].plot(*pismis5_circled, 'o', ms=11.5, mfc='none', mec='black', mew=0.9)
axes[4].errorbar(*pismis5_diamond, xerr=0.04, fmt='o', ms=MS, mew=0, color='black', elinewidth=0.8,
                 capsize=1.8)
axes[4].plot(*pismis5_diamond, 'D', ms=10, mfc='none', mec='black', mew=0.9)
axes[5].plot(*vdb80_circled, 'o', ms=MS, mew=0, color='black')
axes[5].plot(*vdb80_circled, 'o', ms=11.5, mfc='none', mec='black', mew=0.9)

fig.savefig('out.png', dpi=100)
